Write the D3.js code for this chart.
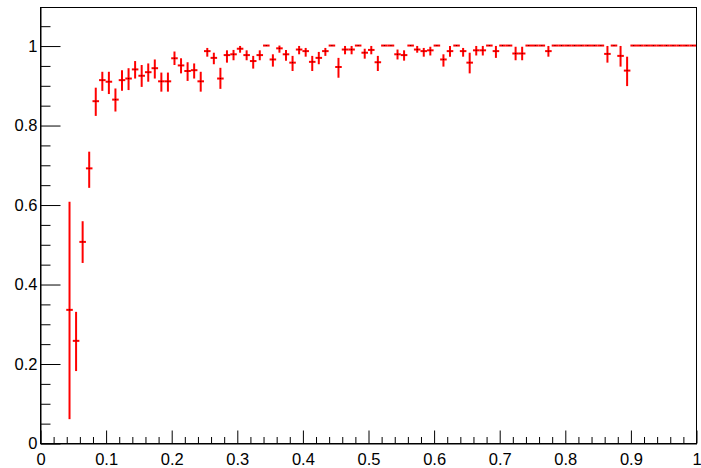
<!DOCTYPE html>
<html>
<head>
<meta charset="utf-8">
<script src="https://cdn.jsdelivr.net/npm/d3@7"></script>
<style>
  html, body { margin: 0; padding: 0; background: #fff; }
  svg { display: block; font-family: "Liberation Sans", Arial, Helvetica, sans-serif; }
</style>
</head>
<body>
<svg id="chart" width="701" height="468"></svg>
<script>
// Efficiency per bin (bin width 0.01), with lower/upper error bounds
const binWidth = 0.01;
const binCenter = [
  0.045, 0.055, 0.065, 0.075, 0.085, 0.095, 0.105, 0.115, 0.125, 0.135,
  0.145, 0.155, 0.165, 0.175, 0.185, 0.195, 0.205, 0.215, 0.225, 0.235,
  0.245, 0.255, 0.265, 0.275, 0.285, 0.295, 0.305, 0.315, 0.325, 0.335,
  0.345, 0.355, 0.365, 0.375, 0.385, 0.395, 0.405, 0.415, 0.425, 0.435,
  0.445, 0.455, 0.465, 0.475, 0.485, 0.495, 0.505, 0.515, 0.525, 0.535,
  0.545, 0.555, 0.565, 0.575, 0.585, 0.595, 0.605, 0.615, 0.625, 0.635,
  0.645, 0.655, 0.665, 0.675, 0.685, 0.695, 0.705, 0.715, 0.725, 0.735,
  0.745, 0.755, 0.765, 0.775, 0.785, 0.795, 0.805, 0.815, 0.825, 0.835,
  0.845, 0.855, 0.865, 0.875, 0.885, 0.895, 0.905, 0.915, 0.925, 0.935,
  0.945, 0.955, 0.965, 0.975, 0.985, 0.995
];
const efficiency = [
  0.335, 0.257, 0.506, 0.691, 0.860, 0.913, 0.909, 0.864, 0.913, 0.917,
  0.940, 0.924, 0.933, 0.943, 0.910, 0.910, 0.968, 0.950, 0.936, 0.938,
  0.910, 0.986, 0.969, 0.917, 0.976, 0.978, 0.992, 0.976, 0.961, 0.976,
  1.000, 0.965, 0.993, 0.978, 0.957, 0.990, 0.986, 0.959, 0.969, 0.986,
  1.000, 0.946, 0.990, 0.990, 1.000, 0.982, 0.989, 0.958, 1.000, 1.000,
  0.978, 0.976, 1.000, 0.990, 0.986, 0.988, 1.000, 0.965, 0.986, 1.000,
  0.986, 0.957, 0.988, 0.988, 1.000, 0.986, 1.000, 1.000, 0.980, 0.980,
  1.000, 1.000, 1.000, 0.986, 1.000, 1.000, 1.000, 1.000, 1.000, 1.000,
  1.000, 1.000, 0.979, 1.000, 0.974, 0.937, 1.000, 1.000, 1.000, 1.000,
  1.000, 1.000, 1.000, 1.000, 1.000, 1.000
];
const effUpper = [
  0.607, 0.330, 0.558, 0.733, 0.894, 0.934, 0.934, 0.892, 0.938, 0.943,
  0.961, 0.951, 0.955, 0.965, 0.932, 0.932, 0.985, 0.968, 0.958, 0.955,
  0.934, 0.994, 0.982, 0.944, 0.988, 0.989, 0.999, 0.988, 0.974, 0.988,
  1.000, 0.978, 1.000, 0.989, 0.974, 0.999, 0.994, 0.974, 0.984, 0.994,
  1.000, 0.969, 0.999, 0.999, 1.000, 0.992, 0.999, 0.974, 1.000, 1.000,
  0.990, 0.988, 1.000, 0.999, 0.994, 0.997, 1.000, 0.978, 0.999, 1.000,
  0.994, 0.982, 0.999, 0.999, 1.000, 0.999, 1.000, 1.000, 0.997, 0.997,
  1.000, 1.000, 1.000, 0.999, 1.000, 1.000, 1.000, 1.000, 1.000, 1.000,
  1.000, 1.000, 0.999, 1.000, 0.999, 0.972, 1.000, 1.000, 1.000, 1.000,
  1.000, 1.000, 1.000, 1.000, 1.000, 1.000
];
const effLower = [
  0.060, 0.181, 0.453, 0.642, 0.823, 0.886, 0.878, 0.834, 0.886, 0.888,
  0.917, 0.896, 0.909, 0.917, 0.884, 0.884, 0.951, 0.930, 0.911, 0.917,
  0.884, 0.972, 0.953, 0.891, 0.957, 0.963, 0.982, 0.963, 0.942, 0.963,
  1.000, 0.947, 0.982, 0.962, 0.936, 0.978, 0.972, 0.936, 0.953, 0.974,
  1.000, 0.919, 0.978, 0.978, 1.000, 0.967, 0.978, 0.936, 1.000, 1.000,
  0.965, 0.962, 1.000, 0.982, 0.972, 0.975, 1.000, 0.947, 0.972, 1.000,
  0.972, 0.930, 0.975, 0.975, 1.000, 0.969, 1.000, 1.000, 0.963, 0.963,
  1.000, 1.000, 1.000, 0.972, 1.000, 1.000, 1.000, 1.000, 1.000, 1.000,
  1.000, 1.000, 0.957, 1.000, 0.947, 0.898, 1.000, 1.000, 1.000, 1.000,
  1.000, 1.000, 1.000, 1.000, 1.000, 1.000
];

// Axis ticks and labels
const xMajorTicks = [0, 0.1, 0.2, 0.3, 0.4, 0.5, 0.6, 0.7, 0.8, 0.9, 1];
const xTickLabels = ["0", "0.1", "0.2", "0.3", "0.4", "0.5", "0.6", "0.7", "0.8", "0.9", "1"];
const yMajorTicks = [0, 0.2, 0.4, 0.6, 0.8, 1];
const yTickLabels = ["0", "0.2", "0.4", "0.6", "0.8", "1"];
const xMinorStep = 0.02;
const yMinorStep = 0.05;

const frame = { left: 40, right: 696, top: 7, bottom: 443 };
const plotW = frame.right - frame.left;
const plotH = frame.bottom - frame.top;

const svg = d3.select("#chart");

const x = d3.scaleLinear().domain([0, 1]).range([frame.left, frame.right]);
const y = d3.scaleLinear().domain([0, 1.097]).range([frame.bottom, frame.top]);

// minor tick positions (skip the major ones)
const isMajor = (v, majors) => majors.some(m => Math.abs(m - v) < 1e-9);
const xMinor = d3.range(0, 1 + 1e-9, xMinorStep).map(v => +v.toFixed(4)).filter(v => !isMajor(v, xMajorTicks));
const yMinor = d3.range(0, 1.097, yMinorStep).map(v => +v.toFixed(4)).filter(v => !isMajor(v, yMajorTicks));

// frame box
svg.append("rect")
  .attr("x", frame.left + 0.5).attr("y", frame.top + 0.5)
  .attr("width", plotW).attr("height", plotH)
  .attr("fill", "none").attr("stroke", "#000").attr("stroke-width", 1);

const xTickLen = Math.round(0.03 * plotH);
const yTickLen = Math.round(0.03 * plotW);

// x axis: major ticks with labels, minor ticks half length, drawn inward
const xAxisG = svg.append("g").attr("transform", `translate(0.5,${frame.bottom + 0.5})`);
xAxisG.call(d3.axisBottom(x)
  .tickValues(xMajorTicks)
  .tickFormat((d, i) => xTickLabels[i])
  .tickSizeInner(-xTickLen).tickSizeOuter(0).tickPadding(10));
svg.append("g").attr("transform", `translate(0.5,${frame.bottom + 0.5})`)
  .call(d3.axisBottom(x).tickValues(xMinor).tickFormat("")
    .tickSizeInner(-xTickLen / 2).tickSizeOuter(0))
  .select(".domain").remove();

// y axis
const yAxisG = svg.append("g").attr("transform", `translate(${frame.left + 0.5},0.5)`);
yAxisG.call(d3.axisLeft(y)
  .tickValues(yMajorTicks)
  .tickFormat((d, i) => yTickLabels[i])
  .tickSizeInner(-yTickLen).tickSizeOuter(0).tickPadding(3));
svg.append("g").attr("transform", `translate(${frame.left + 0.5},0.5)`)
  .call(d3.axisLeft(y).tickValues(yMinor).tickFormat("")
    .tickSizeInner(-yTickLen / 2).tickSizeOuter(0))
  .select(".domain").remove();

svg.selectAll(".tick text")
  .attr("font-size", "16.5px")
  .attr("fill", "#000")
  .attr("font-family", "'Liberation Sans', Arial, Helvetica, sans-serif");
svg.selectAll(".tick line, .domain").attr("stroke", "#000");

// data points: horizontal bin-width bar + vertical error bar
const points = binCenter.map((c, i) => ({
  c, v: efficiency[i], lo: effLower[i], hi: effUpper[i]
}));

const marks = svg.append("g").attr("stroke", "#ff0000").attr("stroke-width", 2);

marks.selectAll("line.h").data(points).join("line")
  .attr("class", "h")
  .attr("x1", d => x(d.c - binWidth / 2))
  .attr("x2", d => x(d.c + binWidth / 2))
  .attr("y1", d => y(d.v))
  .attr("y2", d => y(d.v));

marks.selectAll("line.v").data(points.filter(d => d.hi > d.lo)).join("line")
  .attr("class", "v")
  .attr("x1", d => x(d.c))
  .attr("x2", d => x(d.c))
  .attr("y1", d => y(d.hi))
  .attr("y2", d => y(d.lo));

// small dot marker at each point
svg.append("g").selectAll("rect").data(points).join("rect")
  .attr("x", d => x(d.c) - 0.5)
  .attr("y", d => y(d.v) - 0.5)
  .attr("width", 1).attr("height", 1)
  .attr("fill", "#000").attr("opacity", 0.7);
</script>
</body>
</html>
